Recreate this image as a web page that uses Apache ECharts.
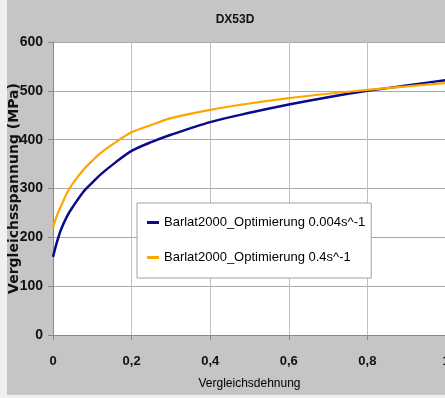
<!DOCTYPE html>
<html>
<head>
<meta charset="utf-8">
<script src="https://cdn.jsdelivr.net/npm/echarts@6/dist/echarts.min.js"></script>
<style>
html,body{margin:0;padding:0;background:#f0f0f0;}
#c{width:445px;height:398px;}
</style>
</head>
<body>
<div id="c"></div>
<script>
var title = "DX53D";
var xName = "Vergleichsdehnung";
var yName = "Vergleichsspannung (MPa)";
var seriesNames = ["Barlat2000_Optimierung 0.004s^-1", "Barlat2000_Optimierung 0.4s^-1"];
var strain = [0, 0.01, 0.02, 0.035, 0.05, 0.077, 0.1, 0.12, 0.16, 0.2, 0.25, 0.3, 0.4, 0.5, 0.6, 0.7, 0.8, 0.9, 1.0];
var stressSlow = [160, 190, 215, 242, 262, 293, 312, 328, 354, 377, 395, 410, 436, 455, 472, 487, 500, 511, 522];
var stressFast = [220, 245, 263, 290, 310, 338, 357, 372, 395, 415, 430, 444, 461, 474, 485, 494, 502, 509, 516];

function pairs(xs, ys){ return xs.map(function(x,i){ return [x, ys[i]]; }); }

var chart = echarts.init(document.getElementById('c'), null, {renderer:'canvas'});
chart.setOption({
  backgroundColor: '#f0f0f0',
  animation: false,
  graphic: [{
    type: 'rect', z: -10, silent: true,
    shape: {x: 7, y: 0, width: 438, height: 395},
    style: {fill: '#c6c4c7'}
  }],
  title: {
    text: title, left: 230, top: 9, textAlign: 'center',
    textStyle: {fontFamily: 'Liberation Sans', fontSize: 12, fontWeight: 'bold', color: '#111'}
  },
  grid: {left: 53, top: 42, width: 393, height: 293, show: true, backgroundColor: '#ffffff', borderWidth: 0,
         containLabel: false, outerBoundsMode: 'none'},
  legend: {
    orient: 'vertical', left: 137, top: 203,
    backgroundColor: '#ffffff', borderColor: '#a0a0a0', borderWidth: 1,
    padding: [13, 6, 14, 10], itemGap: 22,
    itemWidth: 12, itemHeight: 3, icon: 'rect',
    textStyle: {fontFamily: 'Liberation Sans', fontSize: 13, color: '#000'},
    data: seriesNames
  },
  xAxis: {
    type: 'value', min: 0, max: 1, interval: 0.2,
    name: xName, nameLocation: 'middle', nameGap: 43, nameMoveOverlap: false,
    nameTextStyle: {fontFamily: 'Liberation Sans', fontSize: 12, color: '#000'},
    axisLine: {show: true, onZero: false, lineStyle: {color: '#8a8a8a'}},
    axisTick: {show: true, length: 5, lineStyle: {color: '#8a8a8a'}},
    axisLabel: {margin: 20, fontFamily: 'Liberation Sans', fontSize: 13, fontWeight: 'bold', color: '#111',
      formatter: function(v){ return String(Math.round(v*10)/10).replace('.', ','); }},
    splitLine: {show: true, lineStyle: {color: '#c0c0c0', width: 1}}
  },
  yAxis: {
    type: 'value', min: 0, max: 600, interval: 100,
    name: yName, nameLocation: 'middle', nameGap: 32, nameMoveOverlap: false,
    nameTextStyle: {fontFamily: 'DejaVu Sans', fontSize: 14, fontWeight: 'bold', color: '#111'},
    axisLine: {show: true, lineStyle: {color: '#8a8a8a'}},
    axisTick: {show: true, length: 5, lineStyle: {color: '#8a8a8a'}},
    axisLabel: {margin: 10, fontFamily: 'Liberation Sans', fontSize: 14, fontWeight: 'bold', color: '#111'},
    splitLine: {show: true, lineStyle: {color: '#a8a8a8', width: 1}}
  },
  series: [
    {name: seriesNames[0], type: 'line', data: pairs(strain, stressSlow), smooth: 0.3, showSymbol: false,
     lineStyle: {color: '#0a0a8c', width: 2.5}, itemStyle: {color: '#0a0a8c'}},
    {name: seriesNames[1], type: 'line', data: pairs(strain, stressFast), smooth: 0.3, showSymbol: false,
     lineStyle: {color: '#ffa500', width: 2.2}, itemStyle: {color: '#ffa500'}}
  ]
});
</script>
</body>
</html>
